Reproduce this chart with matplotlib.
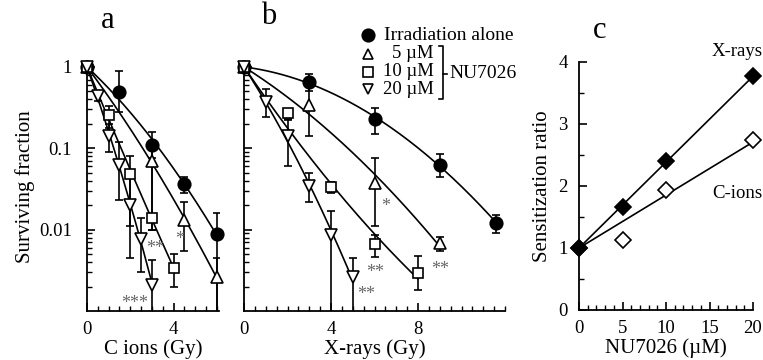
import numpy as np
import matplotlib
matplotlib.use("Agg")
import matplotlib.pyplot as plt
from matplotlib.ticker import MultipleLocator, LogLocator, NullFormatter, FixedLocator

plt.rcParams['font.family'] = ['Liberation Serif', 'DejaVu Serif']

# ---- panel a : C ions ----
a_dose_ctrl = [0, 1.5, 3, 4.5, 6]
a_sf_ctrl = [1.0, 0.49, 0.11, 0.036, 0.0088]
a_lo_ctrl = [1.0, 0.28, 0.075, 0.028, 0.0009]
a_hi_ctrl = [1.0, 0.9, 0.16, 0.045, 0.016]

a_dose_5 = [0, 3, 4.5, 6]
a_sf_5 = [1.0, 0.069, 0.013, 0.0026]
a_lo_5 = [1.0, 0.0098, 0.0055, 0.0009]
a_hi_5 = [1.0, 0.1, 0.022, 0.0045]

a_dose_10 = [0, 1, 2, 3, 4]
a_sf_10 = [1.0, 0.26, 0.048, 0.014, 0.0034]
a_lo_10 = [1.0, 0.18, 0.011, 0.01, 0.002]
a_hi_10 = [1.0, 0.33, 0.08, 0.06, 0.005]

a_dose_20 = [0, 0.5, 1, 1.5, 2, 2.5, 3]
a_sf_20 = [1.0, 0.44, 0.14, 0.062, 0.02, 0.0077, 0.0021]
a_lo_20 = [1.0, 0.38, 0.09, 0.023, 0.0045, 0.003, 0.0009]
a_hi_20 = [1.0, 0.5, 0.2, 0.12, 0.05, 0.014, 0.0042]

# ---- panel b : X-rays ----
b_dose_ctrl = [0, 3, 6, 9, 11.6]
b_sf_ctrl = [1.0, 0.65, 0.23, 0.063, 0.012]
b_lo_ctrl = [1.0, 0.5, 0.15, 0.045, 0.009]
b_hi_ctrl = [1.0, 0.82, 0.31, 0.085, 0.015]

b_dose_5 = [0, 3, 6, 9]
b_sf_5 = [1.0, 0.34, 0.037, 0.0068]
b_lo_5 = [1.0, 0.14, 0.011, 0.0055]
b_hi_5 = [1.0, 0.6, 0.075, 0.0082]

b_dose_10 = [0, 2, 4, 6, 8]
b_sf_10 = [1.0, 0.27, 0.033, 0.0067, 0.0029]
b_lo_10 = [1.0, 0.22, 0.028, 0.0046, 0.0018]
b_hi_10 = [1.0, 0.3, 0.039, 0.0085, 0.0048]

b_dose_20 = [0, 1, 2, 3, 4, 5]
b_sf_20 = [1.0, 0.37, 0.14, 0.034, 0.0087, 0.0026]
b_lo_20 = [1.0, 0.24, 0.06, 0.022, 0.0009, 0.0009]
b_hi_20 = [1.0, 0.54, 0.23, 0.05, 0.017, 0.0045]

# ---- panel c : sensitization ratio ----
c_conc = [0, 5, 10, 20]
c_xray = [1.0, 1.66, 2.4, 3.77]
c_cion = [1.0, 1.13, 1.94, 2.74]

W, H = 763, 360
fig = plt.figure(figsize=(W / 100, H / 100), dpi=100)


def box(x0, y0, x1, y1):
    # pixel box (top-left origin) -> figure fraction rect
    return [x0 / W, 1 - y1 / H, (x1 - x0) / W, (y1 - y0) / H]


def lq_curve(dose, sf, dmax):
    d = np.asarray(dose, float)
    y = -np.log(np.asarray(sf, float))
    A = np.column_stack([d, d ** 2])
    coef = np.linalg.lstsq(A, y, rcond=None)[0]
    xx = np.linspace(0, dmax, 200)
    return xx, np.exp(-(coef[0] * xx + coef[1] * xx ** 2))


def survival(ax, dose, sf, lo, hi, marker, filled):
    sf = np.asarray(sf)
    yerr = [sf - np.asarray(lo), np.asarray(hi) - sf]
    xx, yy = lq_curve(dose, sf, dose[-1])
    ax.plot(xx, yy, color='black', lw=1.2, zorder=2)
    ax.errorbar(dose, sf, yerr=yerr, fmt='none', ecolor='black', elinewidth=1.2,
                capsize=2.8, capthick=1.2, zorder=3)
    ms = {'o': 9, 's': 7.5}.get(marker, 8)
    ax.plot(dose, sf, ls='none', marker=marker, ms=ms,
            mfc='black' if filled else 'white', mec='black', mew=1.2,
            zorder=4, clip_on=False)


def style_log(ax, xmax, xmajor):
    ax.set_yscale('log')
    ax.set_ylim(0.001, 1.15)
    ax.set_xlim(0, xmax)
    for s in ['top', 'right']:
        ax.spines[s].set_visible(False)
    for s in ['left', 'bottom']:
        ax.spines[s].set_linewidth(1.3)
    ax.xaxis.set_major_locator(FixedLocator(xmajor))
    ax.xaxis.set_minor_locator(MultipleLocator(0.5))
    ax.yaxis.set_major_locator(FixedLocator([0.01, 0.1, 1]))
    ax.yaxis.set_minor_locator(LogLocator(base=10, subs=np.arange(2, 10)))
    ax.yaxis.set_minor_formatter(NullFormatter())
    ax.tick_params(which='major', direction='in', length=6, width=1.2, labelsize=13.5, pad=7)
    ax.tick_params(axis='y', which='major', pad=11)
    ax.tick_params(which='minor', direction='in', length=3.5, width=1.0)


ax_a = fig.add_axes(box(87, 62, 219, 311))
survival(ax_a, a_dose_ctrl, a_sf_ctrl, a_lo_ctrl, a_hi_ctrl, 'o', True)
survival(ax_a, a_dose_5, a_sf_5, a_lo_5, a_hi_5, '^', False)
survival(ax_a, a_dose_10, a_sf_10, a_lo_10, a_hi_10, 's', False)
survival(ax_a, a_dose_20, a_sf_20, a_lo_20, a_hi_20, 'v', False)
style_log(ax_a, 6.1, [0, 4])
ax_a.set_yticklabels(['0.01', '0.1', '1'])
ax_a.set_xlabel('C ions (Gy)', fontsize=15, labelpad=1)
ax_a.set_ylabel('Surviving fraction', fontsize=15, labelpad=3)
star = dict(color='#666666', fontsize=13, ha='center', va='center')
ax_a.text(2.2, 0.00125, '***', **star)
ax_a.text(3.15, 0.0058, '**', **star)
ax_a.text(4.3, 0.0075, '*', **star)

ax_b = fig.add_axes(box(244, 62, 505, 311))
survival(ax_b, b_dose_ctrl, b_sf_ctrl, b_lo_ctrl, b_hi_ctrl, 'o', True)
survival(ax_b, b_dose_5, b_sf_5, b_lo_5, b_hi_5, '^', False)
survival(ax_b, b_dose_10, b_sf_10, b_lo_10, b_hi_10, 's', False)
survival(ax_b, b_dose_20, b_sf_20, b_lo_20, b_hi_20, 'v', False)
style_log(ax_b, 12, [0, 4, 8])
ax_b.set_yticklabels([])
ax_b.set_xlabel('X-rays (Gy)', fontsize=15, labelpad=1)
ax_b.text(6.5, 0.019, '*', **star)
ax_b.text(6.05, 0.003, '**', **star)
ax_b.text(5.6, 0.0016, '**', **star)
ax_b.text(9.0, 0.0032, '**', **star)

# legend drawn by hand (markers + bracket)
leg_rows = [('o', True, 'Irradiation alone', 35),
            ('^', False, '5 µM', 54),
            ('s', False, '10 µM', 72),
            ('v', False, '20 µM', 89)]
for mk, filled, label, ypx in leg_rows:
    fig.lines.append(plt.Line2D([368 / W], [1 - ypx / H], transform=fig.transFigure,
                                ls='none', marker=mk, ms=9 if mk == 'o' else 6.5,
                                mfc='black' if filled else 'white', mec='black', mew=1.2))
    if filled:
        fig.text(384 / W, 1 - ypx / H, label, fontsize=14, ha='left', va='center')
    else:
        fig.text(434 / W, 1 - ypx / H, label, fontsize=13.5, ha='right', va='center')
bx = [439, 443, 443, 439]
by = [46, 46, 99, 99]
fig.lines.append(plt.Line2D([v / W for v in bx], [1 - v / H for v in by],
                            transform=fig.transFigure, color='black', lw=1.2))
fig.lines.append(plt.Line2D([443 / W, 447 / W], [1 - 74 / H, 1 - 74 / H],
                            transform=fig.transFigure, color='black', lw=1.2))
fig.text(449 / W, 1 - 73 / H, 'NU7026', fontsize=14, ha='left', va='center')

ax_c = fig.add_axes(box(579, 62, 753, 310))
cx = np.asarray(c_conc, float)
xx = np.linspace(0, 20, 50)
for vals, fill in [(c_xray, 'black'), (c_cion, 'white')]:
    v = np.asarray(vals)
    slope = np.sum(cx * (v - 1)) / np.sum(cx ** 2)
    ax_c.plot(xx, 1 + slope * xx, color='black', lw=1.2, zorder=2)
    ax_c.plot(cx, v, ls='none', marker='D', ms=8.5, mfc=fill, mec='black', mew=1.2,
              zorder=4 if fill == 'black' else 3, clip_on=False)
ax_c.set_xlim(0, 20)
ax_c.set_ylim(0, 4)
for s in ['top', 'right']:
    ax_c.spines[s].set_visible(False)
for s in ['left', 'bottom']:
    ax_c.spines[s].set_linewidth(1.3)
ax_c.xaxis.set_major_locator(MultipleLocator(5))
ax_c.xaxis.set_minor_locator(MultipleLocator(1))
ax_c.yaxis.set_major_locator(MultipleLocator(1))
ax_c.yaxis.set_minor_locator(MultipleLocator(0.5))
ax_c.tick_params(which='major', direction='in', length=6, width=1.2, labelsize=13.5, pad=7)
ax_c.tick_params(axis='y', which='major', pad=8)
ax_c.tick_params(which='minor', direction='in', length=3.5, width=1.0)
ax_c.set_xlabel('NU7026 (µM)', fontsize=15, labelpad=1)
ax_c.set_ylabel('Sensitization ratio', fontsize=15, labelpad=5)
ax_c.text(737 / W, 1 - 52 / H, 'X-rays', transform=fig.transFigure, fontsize=13.5, ha='center', va='center')
ax_c.text(737 / W, 1 - 193 / H, 'C-ions', transform=fig.transFigure, fontsize=13.5, ha='center', va='center')

# panel letters
fig.text(108 / W, 1 - 21 / H, 'a', fontsize=22, ha='center', va='center')
fig.text(269 / W, 1 - 17 / H, 'b', fontsize=22, ha='center', va='center')
fig.text(600 / W, 1 - 30 / H, 'c', fontsize=22, ha='center', va='center')

fig.savefig('out.png', dpi=100)
